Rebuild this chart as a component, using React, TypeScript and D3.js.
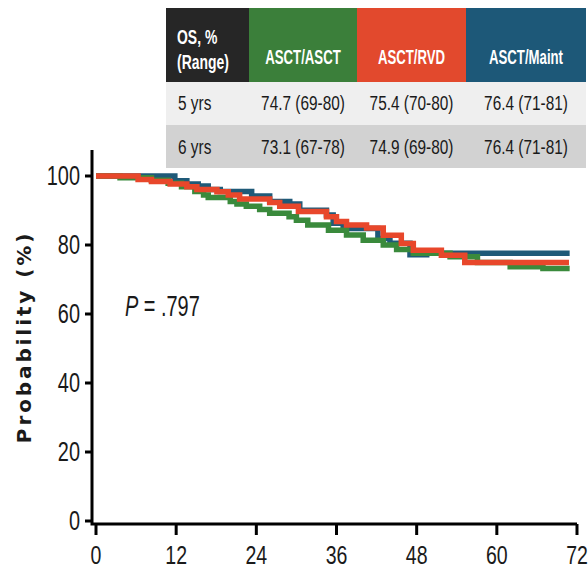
import React from "react";
import * as d3 from "d3";

// ---- data ----
const xTicks = [0, 12, 24, 36, 48, 60, 72];
const yTicks = [0, 20, 40, 60, 80, 100];

const seriesNames = ["ASCT/ASCT", "ASCT/RVD", "ASCT/Maint"];
const tableHeader = "OS, %";
const tableHeader2 = "(Range)";
const rowLabels = ["5 yrs", "6 yrs"];
const row5 = ["74.7 (69-80)", "75.4 (70-80)", "76.4 (71-81)"];
const row6 = ["73.1 (67-78)", "74.9 (69-80)", "76.4 (71-81)"];
const pValue = " = .797";

// step change points [month, percent]
const blueCurve: [number, number][] = [
  [0, 100], [11.8, 98.6], [13.6, 97.7], [15.3, 97.1], [16.8, 96.1], [18.6, 95.5],
  [23.3, 94.2], [26.0, 92.6], [29.0, 91.9], [30.5, 90.1], [34.5, 88.7], [35.5, 86.3],
  [37.0, 84.8], [42.2, 81.9], [44.0, 80.5], [47.0, 77.2], [49.5, 77.6], [70.9, 77.6],
];
const greenCurve: [number, number][] = [
  [0, 100], [3.6, 99.5], [8.3, 98.8], [10.8, 97.9], [12.8, 96.9], [14.8, 95.5],
  [16.1, 94.5], [16.8, 93.8], [20.1, 92.6], [21.1, 91.9], [22.5, 91.2], [24.5, 90.3],
  [26.0, 89.2], [28.9, 88.2], [30.0, 87.2], [31.7, 85.8], [34.8, 84.3], [37.5, 82.9],
  [40.0, 81.4], [43.0, 80.0], [45.0, 78.7], [47.5, 77.6], [53.0, 76.6], [57.1, 74.9],
  [62.0, 73.7], [66.9, 73.2], [70.9, 73.2],
];
const redCurve: [number, number][] = [
  [0, 100], [6.3, 99.0], [8.3, 98.4], [11.1, 97.7], [13.6, 96.9], [15.1, 96.1],
  [18.1, 95.4], [19.8, 94.5], [21.5, 93.3], [26.0, 92.3], [27.5, 91.2], [30.3, 89.7],
  [34.5, 88.2], [36.0, 86.8], [37.5, 85.8], [40.5, 84.9], [43.0, 82.8], [45.7, 80.4],
  [47.5, 78.5], [51.7, 77.0], [55.2, 74.9], [70.8, 74.9],
];

const COLORS = { green: "#3a8a3c", red: "#e8472b", blue: "#1f5a78" };
const HEAD = { dark: "#262626", green: "#3b7f3a", red: "#e2492d", blue: "#1d5878" };

const SANS = "'Liberation Sans', Arial, sans-serif";

function SText(props: {
  x: number; y: number; size: number; sx?: number; sy?: number; anchor?: string; weight?: string;
  fill?: string; baseline?: string; children: React.ReactNode;
}) {
  const { x, y, size, sx = 0.82, sy = 1.2, anchor = "middle", weight = "normal", fill = "#1a1a1a", baseline = "central" } = props;
  return (
    <text
      transform={`translate(${x},${y}) scale(${sx},${sy})`}
      textAnchor={anchor as any}
      dominantBaseline={baseline as any}
      fontFamily={SANS}
      fontSize={size}
      fontWeight={weight}
      fill={fill}
    >
      {props.children}
    </text>
  );
}

export default function App() {
  const x = d3.scaleLinear().domain([0, 72]).range([96, 577]);
  const y = d3.scaleLinear().domain([0, 100]).range([521, 176]);
  const line = d3
    .line<[number, number]>()
    .x((d) => x(d[0]))
    .y((d) => y(d[1]))
    .curve(d3.curveStepAfter);

  const axisX0 = 92;
  const axisY = 524;
  const axisTop = 150;

  // table geometry
  const colEdges = [166, 249, 357, 466, 586];
  const rowEdges = [8, 82, 125, 168];
  const headFills = [HEAD.dark, HEAD.green, HEAD.red, HEAD.blue];

  return (
    <svg width={588} height={570} style={{ position: "absolute", left: 0, top: 0, background: "#fff" }}>
      {/* table */}
      <g>
        {headFills.map((f, i) => (
          <rect key={i} x={colEdges[i]} y={rowEdges[0]} width={colEdges[i + 1] - colEdges[i]} height={rowEdges[1] - rowEdges[0]} fill={f} />
        ))}
        <rect x={colEdges[0]} y={rowEdges[1]} width={colEdges[4] - colEdges[0]} height={rowEdges[2] - rowEdges[1]} fill="#efefef" />
        <rect x={colEdges[0]} y={rowEdges[2]} width={colEdges[4] - colEdges[0]} height={rowEdges[3] - rowEdges[2]} fill="#d2d2d2" />
        <SText x={177} y={37} size={17} anchor="start" weight="bold" fill="#fff">{tableHeader}</SText>
        <SText x={177} y={62} size={17} anchor="start" weight="bold" fill="#fff">{tableHeader2}</SText>
        {seriesNames.map((n, i) => (
          <SText key={n} x={(colEdges[i + 1] + colEdges[i + 2]) / 2} y={58} size={16.5} sx={0.8} weight="bold" fill="#fff">{n}</SText>
        ))}
        <SText x={178} y={103} size={17.5} sx={0.88} anchor="start">{rowLabels[0]}</SText>
        <SText x={178} y={147} size={17.5} sx={0.88} anchor="start">{rowLabels[1]}</SText>
        {row5.map((v, i) => (
          <SText key={"a" + i} x={(colEdges[i + 1] + colEdges[i + 2]) / 2} y={103} size={17.5} sx={0.88}>{v}</SText>
        ))}
        {row6.map((v, i) => (
          <SText key={"b" + i} x={(colEdges[i + 1] + colEdges[i + 2]) / 2} y={147} size={17.5} sx={0.88}>{v}</SText>
        ))}
      </g>

      {/* curves */}
      <g fill="none" strokeWidth={5.5} strokeLinejoin="miter" strokeLinecap="butt">
        <path d={line(blueCurve) || ""} stroke={COLORS.blue} />
        <path d={line(greenCurve) || ""} stroke={COLORS.green} />
        <path d={line(redCurve) || ""} stroke={COLORS.red} />
      </g>

      {/* axes */}
      <g stroke="#000" strokeWidth={3} fill="none">
        <path d={`M${axisX0},${axisTop} V${axisY} H${x(72)}`} />
        {yTicks.map((t) => (
          <line key={t} x1={axisX0 - 7} x2={axisX0} y1={y(t)} y2={y(t)} />
        ))}
        {xTicks.map((t) => (
          <line key={t} x1={x(t)} x2={x(t)} y1={axisY} y2={axisY + 11} />
        ))}
      </g>
      {yTicks.map((t) => (
        <SText key={t} x={80} y={y(t)} size={24} sx={0.83} sy={1.12} anchor="end">{String(t)}</SText>
      ))}
      {xTicks.map((t) => (
        <SText key={t} x={x(t)} y={564} size={23} sx={0.85} sy={1.1} baseline="alphabetic">{String(t)}</SText>
      ))}

      {/* y label */}
      <text
        transform="translate(24,337) rotate(-90)"
        textAnchor="middle"
        dominantBaseline="central"
        fontFamily="'DejaVu Sans', Verdana, sans-serif"
        fontWeight="bold"
        fontSize={20}
        letterSpacing={2.9}
        fill="#1a1a1a"
      >
        Probability (%)
      </text>

      {/* p value */}
      <text
        transform="translate(125,306) scale(0.83,1.2)"
        dominantBaseline="central"
        fontFamily={SANS}
        fontSize={24}
        fill="#1a1a1a"
      >
        <tspan fontStyle="italic">P</tspan>
        {pValue}
      </text>
    </svg>
  );
}
